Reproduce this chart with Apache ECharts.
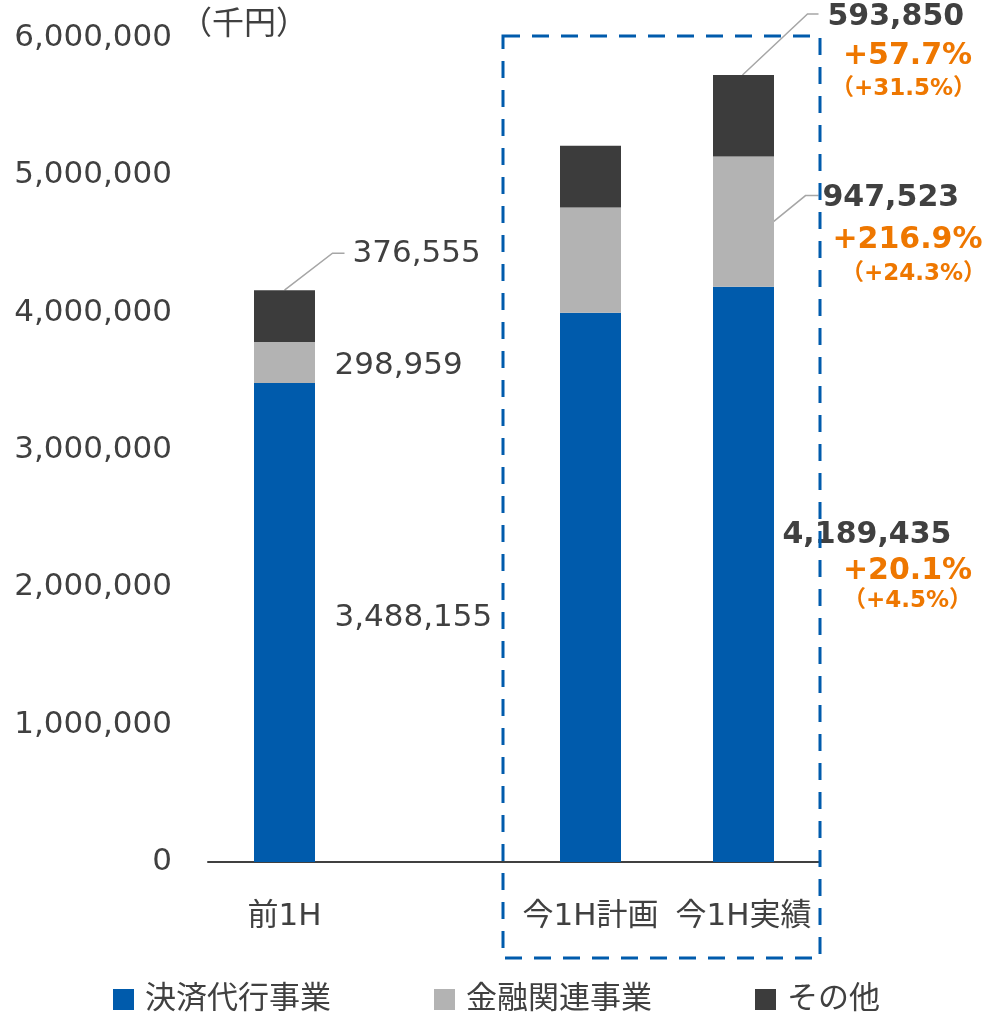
<!DOCTYPE html>
<html>
<head>
<meta charset="UTF-8">
<title>売上高推移</title>
<script src="https://cdn.jsdelivr.net/npm/echarts@6/dist/echarts.min.js"></script>
<style>
  html, body { margin: 0; padding: 0; background: #fff; }
  #main { width: 982px; height: 1013px; }
</style>
</head>
<body>
<div id="main"></div>
<script type="text/javascript">
// data
var categories = ['前1H', '', '今1H計画', '今1H実績'];
var seriesNames = ['決済代行事業', '金融関連事業', 'その他'];
var kessai = [3488155, null, 4000000, 4189435];
var kinyu = [298959, null, 765000, 947523];
var sonota = [376555, null, 450000, 593850];
// 今1H実績: 前年同期比 / 計画比 (決済, 金融, その他)
var yoyRate = ['+20.1%', '+216.9%', '+57.7%'];
var planRate = ['（+4.5%）', '（+24.3%）', '（+31.5%）'];

var FONT = "'DejaVu Sans', 'Noto Sans CJK JP', sans-serif";
var TXT = '#404040';
var ORANGE = '#EE7700';
var colors = ['#005BAC', '#B3B3B3', '#3C3C3C'];

var chart = echarts.init(document.getElementById('main'));

function fmt(v) {
    return v.toLocaleString('en-US');
}

var option = {
    animation: false,
    color: colors,
    textStyle: { fontFamily: FONT },
    grid: { left: 208, right: 162, top: 38, bottom: 151 },
    legend: {
        left: 108,
        top: 979,
        itemWidth: 21,
        itemHeight: 21,
        itemGap: 103,
        icon: 'rect',
        data: seriesNames,
        textStyle: { fontSize: 31, color: TXT, fontFamily: FONT, padding: [0, 0, 0, 6] }
    },
    xAxis: {
        type: 'category',
        data: categories,
        axisLine: { lineStyle: { color: '#404040', width: 2 } },
        axisTick: { show: false },
        axisLabel: { interval: 0, fontSize: 31, color: TXT, fontFamily: FONT, margin: 39 }
    },
    yAxis: {
        type: 'value',
        min: 0,
        max: 6000000,
        interval: 1000000,
        axisLine: { show: false },
        axisTick: { show: false },
        splitLine: { show: false },
        axisLabel: {
            fontSize: 31, color: TXT, fontFamily: FONT, margin: 36,
            formatter: function (v) { return fmt(v); }
        }
    },
    series: [
        { name: seriesNames[0], type: 'bar', stack: 's', barWidth: 61, data: kessai },
        { name: seriesNames[1], type: 'bar', stack: 's', barWidth: 61, data: kinyu },
        { name: seriesNames[2], type: 'bar', stack: 's', barWidth: 61, data: sonota }
    ]
};
chart.setOption(option);

function px(ci, v) {
    return chart.convertToPixel({ gridIndex: 0 }, [ci, v]);
}

function txt(x, y, s, opt) {
    opt = opt || {};
    return {
        type: 'text', x: x, y: y,
        style: {
            text: s,
            fill: opt.fill || TXT,
            font: (opt.bold ? 'bold ' : '') + (opt.size || 31) + 'px ' + FONT,
            textAlign: opt.align || 'left',
            textVerticalAlign: 'middle'
        }
    };
}

function leader(points) {
    return {
        type: 'polyline',
        shape: { points: points },
        style: { stroke: '#A6A6A6', lineWidth: 1.5, fill: null }
    };
}

var g = [];

// 前1H
(function () {
    var i = 0;
    var cx = px(i, 0)[0];
    var top = px(i, kessai[i] + kinyu[i] + sonota[i])[1];
    var gMid = px(i, kessai[i] + kinyu[i] / 2)[1];
    var bMid = px(i, kessai[i] / 2)[1];
    g.push(leader([[cx, top], [cx + 48, top - 37], [cx + 60, top - 37]]));
    g.push(txt(cx + 68, top - 36, fmt(sonota[i])));
    g.push(txt(cx + 50, gMid + 4, fmt(kinyu[i])));
    g.push(txt(cx + 50, bMid - 5, fmt(kessai[i])));
})();

// 今1H実績
(function () {
    var i = 3;
    var cx = px(i, 0)[0];
    var top = px(i, kessai[i] + kinyu[i] + sonota[i])[1];
    var gMid = px(i, kessai[i] + kinyu[i] / 2)[1];
    var bMid = px(i, kessai[i] / 2)[1];
    var gx = cx + 164;

    g.push(leader([[cx - 1, top], [cx + 64, top - 61], [cx + 75, top - 61]]));
    g.push(txt(cx + 84, top - 58, fmt(sonota[i]), { bold: true, size: 30 }));
    g.push(txt(gx, top - 19, yoyRate[2], { bold: true, size: 30, fill: ORANGE, align: 'center' }));
    g.push(txt(gx - 4, top + 14, planRate[2], { bold: true, size: 23, fill: ORANGE, align: 'center' }));

    g.push(leader([[cx + 30, gMid], [cx + 62, gMid - 26], [cx + 75, gMid - 26]]));
    g.push(txt(cx + 79, gMid - 23, fmt(kinyu[i]), { bold: true, size: 30 }));
    g.push(txt(gx, gMid + 19, yoyRate[1], { bold: true, size: 30, fill: ORANGE, align: 'center' }));
    g.push(txt(gx + 6, gMid + 52, planRate[1], { bold: true, size: 23, fill: ORANGE, align: 'center' }));

    g.push(txt(cx + 39, bMid - 39, fmt(kessai[i]), { bold: true, size: 30 }));
    g.push(txt(gx, bMid - 3, yoyRate[0], { bold: true, size: 30, fill: ORANGE, align: 'center' }));
    g.push(txt(gx, bMid + 27, planRate[0], { bold: true, size: 23, fill: ORANGE, align: 'center' }));
})();

// 単位
g.push(txt(180, 26, '（千円）', { size: 32 }));

// 今期の枠
g.push({
    type: 'rect',
    shape: { x: 503, y: 36, width: 317, height: 922 },
    style: { fill: null, stroke: '#005BAC', lineWidth: 3, lineDash: [17, 12] },
    z: 10
});

chart.setOption({ graphic: g });
</script>
</body>
</html>
